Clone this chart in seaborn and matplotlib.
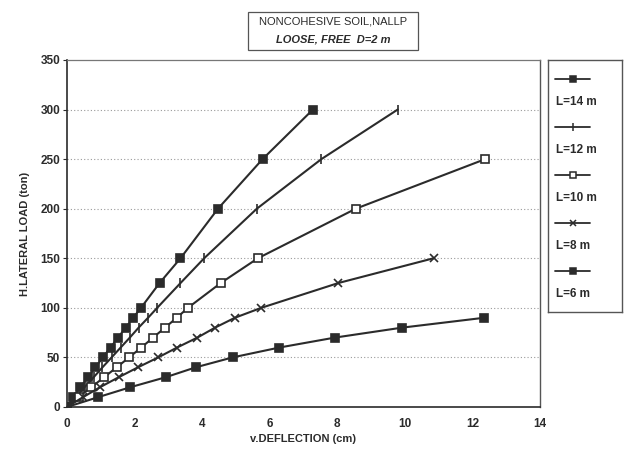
import numpy as np
import pandas as pd
import matplotlib
matplotlib.use("Agg")
import matplotlib.pyplot as plt
import seaborn as sns
from matplotlib.lines import Line2D
from matplotlib.patches import Rectangle

# Load-deflection curves for free-head piles (D = 2 m) in loose noncohesive soil
load_14 = [0, 10, 20, 30, 40, 50, 60, 70, 80, 90, 100, 125, 150, 200, 250, 300]
defl_14 = [0, 0.19, 0.40, 0.62, 0.84, 1.06, 1.29, 1.51, 1.74, 1.96, 2.19, 2.74, 3.36, 4.47, 5.79, 7.28]

load_12 = [0, 10, 20, 30, 40, 50, 60, 70, 80, 90, 100, 125, 150, 200, 250, 300]
defl_12 = [0, 0.26, 0.52, 0.79, 1.05, 1.32, 1.59, 1.86, 2.12, 2.40, 2.67, 3.36, 4.06, 5.62, 7.53, 9.79]

load_10 = [0, 10, 20, 30, 40, 50, 60, 70, 80, 90, 100, 125, 150, 200, 250]
defl_10 = [0, 0.35, 0.72, 1.10, 1.47, 1.84, 2.20, 2.55, 2.90, 3.25, 3.58, 4.55, 5.65, 8.55, 12.38]

load_8 = [0, 10, 20, 30, 40, 50, 60, 70, 80, 90, 100, 125, 150]
defl_8 = [0, 0.48, 0.98, 1.53, 2.10, 2.70, 3.26, 3.86, 4.38, 4.97, 5.75, 8.03, 10.85]

load_6 = [0, 10, 20, 30, 40, 50, 60, 70, 80, 90]
defl_6 = [0, 0.93, 1.88, 2.92, 3.81, 4.90, 6.29, 7.93, 9.91, 12.35]

series_labels = ["L=14 m", "L=12 m", "L=10 m", "L=8 m", "L=6 m"]
x_ticks = [0, 2, 4, 6, 8, 10, 12, 14]
y_ticks = [0, 50, 100, 150, 200, 250, 300, 350]

frames = []
for lab, x, y in zip(series_labels,
                     [defl_14, defl_12, defl_10, defl_8, defl_6],
                     [load_14, load_12, load_10, load_8, load_6]):
    frames.append(pd.DataFrame({"deflection": x, "load": y, "pile": lab}))
df = pd.concat(frames, ignore_index=True)

sns.set_theme(style="white")
plt.rcParams["font.family"] = ["Liberation Sans", "DejaVu Sans"]
plt.rcParams["font.weight"] = "bold"

ink = "#2b2b2b"
markers = {"L=14 m": "s", "L=12 m": "|", "L=10 m": "s", "L=8 m": "x", "L=6 m": "s"}
mfc = {"L=14 m": ink, "L=12 m": ink, "L=10 m": "white", "L=8 m": ink, "L=6 m": ink}
msize = {"L=14 m": 6, "L=12 m": 7, "L=10 m": 5.5, "L=8 m": 6, "L=6 m": 5.5}

fig = plt.figure(figsize=(6.33, 4.55), dpi=100)
ax = fig.add_axes([0.1058, 0.1055, 0.7472, 0.7627])

for lab in series_labels:
    sub = df[df["pile"] == lab]
    sns.lineplot(data=sub, x="deflection", y="load", ax=ax, color=ink,
                 linewidth=1.5, marker=markers[lab], markersize=msize[lab],
                 markerfacecolor=mfc[lab], markeredgecolor=ink,
                 markeredgewidth=1.2, sort=False, estimator=None, legend=False)

ax.set_xlim(0, 14)
ax.set_ylim(0, 350)
ax.set_xticks(x_ticks)
ax.set_yticks(y_ticks)
ax.set_xticklabels([str(t) for t in x_ticks])
ax.set_yticklabels([str(t) for t in y_ticks])
ax.tick_params(axis="both", labelsize=8.5, colors=ink, length=3, width=0.8,
               direction="out", left=True, bottom=False, pad=2)
ax.tick_params(axis="x", pad=5)

for y in y_ticks[1:-1]:
    ax.axhline(y, color="#9a9a9a", linestyle=(0, (1, 2)), linewidth=0.8, zorder=0)

for side in ["left", "bottom"]:
    ax.spines[side].set_color(ink)
    ax.spines[side].set_linewidth(1.2)
ax.spines["right"].set_color("#555555")
ax.spines["right"].set_linewidth(1.0)
ax.spines["top"].set_color("#777777")
ax.spines["top"].set_linewidth(0.9)

ax.set_xlabel("v.DEFLECTION (cm)", fontsize=8, color=ink, labelpad=3,
              fontweight="bold")
ax.set_ylabel("H.LATERAL LOAD (ton)", fontsize=8, color=ink, labelpad=7,
              fontweight="bold")

# Boxed title
fig.add_artist(Rectangle((248 / 633, 1 - 50 / 455), 170 / 633, 38 / 455,
                         transform=fig.transFigure, facecolor="white",
                         edgecolor="#555555", linewidth=0.9))
fig.text(333 / 633, 1 - 22 / 455, "NONCOHESIVE SOIL,NALLP", ha="center",
         va="center", fontsize=8, color=ink, fontweight="normal")
fig.text(333 / 633, 1 - 39 / 455, "LOOSE, FREE  D=2 m", ha="center",
         va="center", fontsize=8, color=ink, style="italic", fontweight="bold")

# Legend panel: sample line above each label
lax = fig.add_axes([548 / 633, 1 - 312 / 455, 74 / 633, 252 / 455])
lax.set_xlim(0, 74)
lax.set_ylim(252, 0)
lax.set_xticks([])
lax.set_yticks([])
for s in lax.spines.values():
    s.set_color("#555555")
    s.set_linewidth(1.0)
for i, lab in enumerate(series_labels):
    yh = 19 + 48 * i
    lax.add_line(Line2D([7, 42], [yh, yh], color=ink, linewidth=1.3))
    lax.plot([24.5], [yh], marker=markers[lab], markersize=msize[lab] - 1,
             markerfacecolor=mfc[lab], markeredgecolor=ink, markeredgewidth=1.1,
             linestyle="none")
    lax.text(8, yh + 23, lab, fontsize=8.5, color=ink, va="center", ha="left")

fig.savefig("out.png", dpi=100, facecolor="white")
